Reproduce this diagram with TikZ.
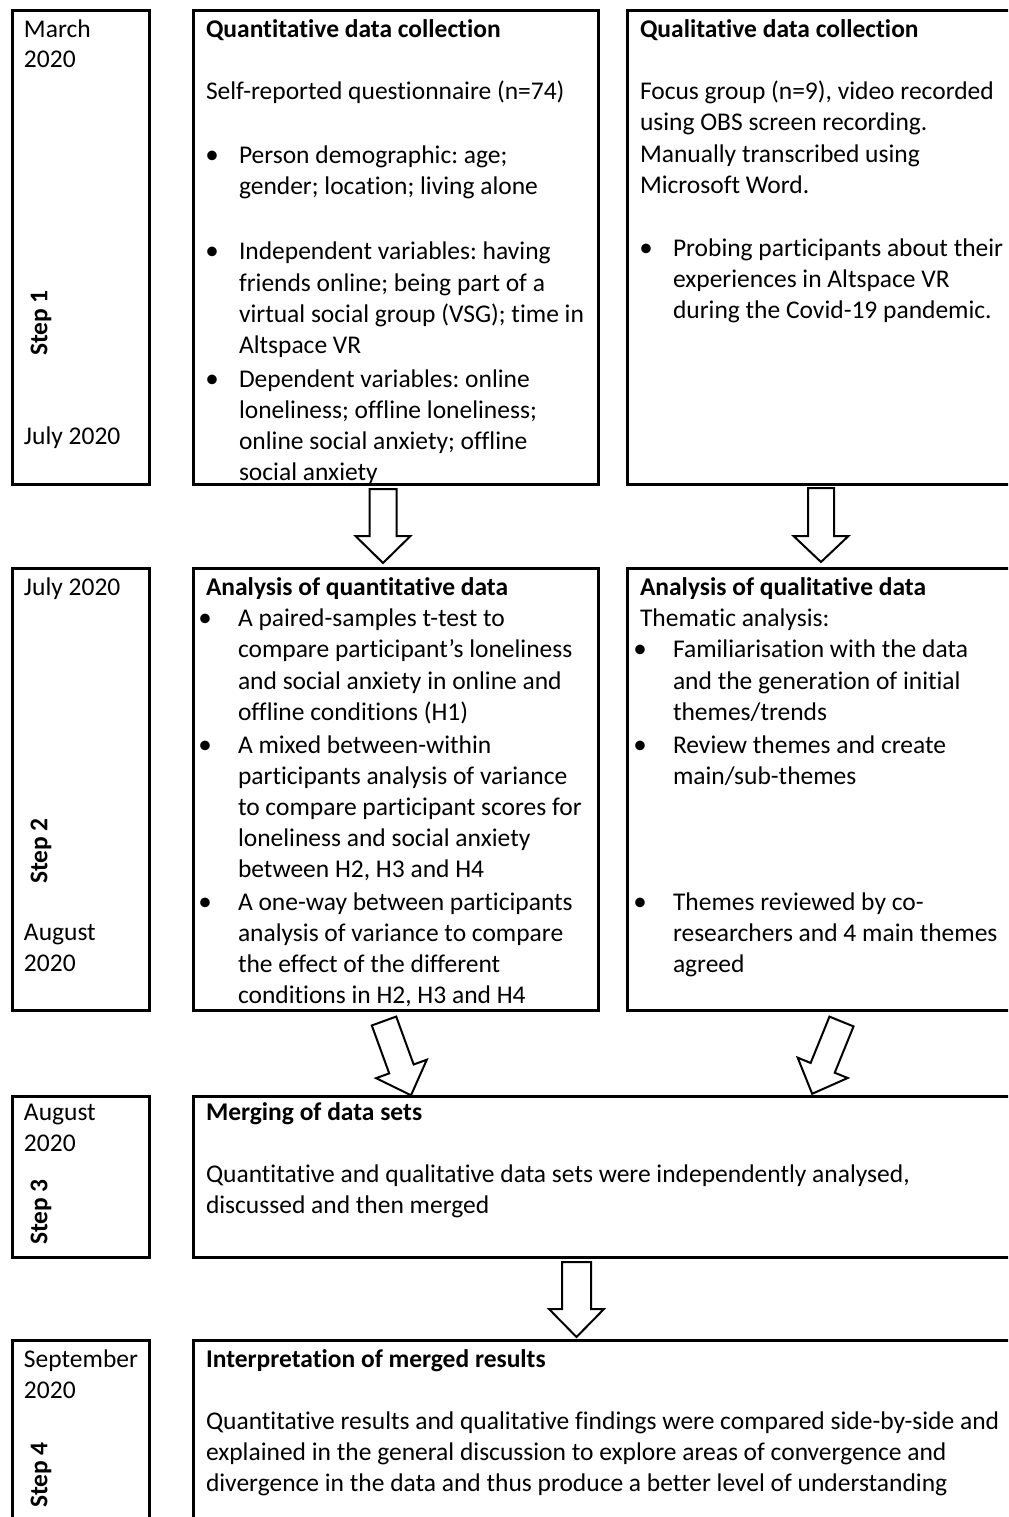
\documentclass[tikz,border=0pt]{standalone}
\usepackage{fontspec}
\setmainfont[Ligatures=NoCommon]{Carlito}
\frenchspacing
\newcounter{ln}
\tikzset{
  box/.style={draw=black, line width=1.5pt, fill=white, inner sep=0pt, outer sep=0pt, anchor=north west},
  txt/.style={inner sep=0pt, outer sep=0pt, anchor=base west, font=\fontsize{12.75}{15.6}\selectfont},
  bul/.style={inner sep=0pt, outer sep=0pt, anchor=base, font=\fontsize{13.5}{15.6}\selectfont},
  steplbl/.style={inner sep=0pt, rotate=90, font=\fontsize{12.75}{15.6}\selectfont\bfseries},
  blk/.style={draw=black, line width=1pt, fill=white, line join=miter},
}
\newcommand\tl[3]{\stepcounter{ln}\node[txt] (t\arabic{ln}) at (#1,#2) {#3};}
\newcommand\bt[2]{\stepcounter{ln}\node[bul] (b\arabic{ln}) at (#1,#2) {•};}
% #1 start coordinate, #2 canvas angle, #3 length, #4 shaft half width, #5 head half width, #6 head length
\newcommand\barrow[6]{\draw[blk, shift={(#1)}, rotate=#2] (0,#4) -- ({#3-#6},#4) -- ({#3-#6},#5) -- (#3,0) -- ({#3-#6},-#5) -- ({#3-#6},-#4) -- (0,-#4) -- cycle;}
\begin{document}
\begin{tikzpicture}[x=0.5pt,y=-0.5pt]
\useasboundingbox (0,0) rectangle (1008,1517);
\clip (0,0) rectangle (1008,1517);
\fill[white] (0,0) rectangle (1008,1517);
% boxes
\node[box, minimum width=68.5pt, minimum height=237pt] (d1) at (12,10) {};
\node[box, minimum width=202.5pt, minimum height=237pt] (q1) at (193,10) {};
\node[box, minimum width=200pt, minimum height=237pt] (l1) at (627,10) {};
\node[box, minimum width=68.5pt, minimum height=221pt] (d2) at (12,568) {};
\node[box, minimum width=202.5pt, minimum height=221pt] (q2) at (193,568) {};
\node[box, minimum width=200pt, minimum height=221pt] (l2) at (627,568) {};
\node[box, minimum width=68.5pt, minimum height=80.5pt] (d3) at (12,1096) {};
\node[box, minimum width=415pt, minimum height=80.5pt] (m3) at (193,1096) {};
\node[box, minimum width=68.5pt, minimum height=100pt] (d4) at (12,1340) {};
\node[box, minimum width=415pt, minimum height=100pt] (m4) at (193,1340) {};
% arrows
\coordinate (a1) at (383,489);
\coordinate (a2) at (821,488);
\coordinate (a3) at (384,1021);
\coordinate (a4) at (841.5,1021.5);
\coordinate (a5) at (576.5,1262);
\barrow{a1}{-90}{74}{13.5}{27.5}{27}
\barrow{a2}{-90}{74}{13}{27.5}{26}
\barrow{a3}{-70}{79}{13}{27}{28}
\barrow{a4}{-112.1}{78}{13}{27}{28}
\barrow{a5}{-90}{75}{14.5}{27.5}{28}
% step 1
\tl{24}{37}{March}
\tl{24}{67}{2020}
\tl{24}{444}{July 2020}
\node[steplbl] (s1) at (41,323) {Step 1};
\tl{206}{37}{\bfseries Quantitative data collection}
\tl{206}{99}{Self-reported questionnaire (n=74)}
\bt{212}{163}\tl{239}{163}{Person demographic: age;}
\tl{239}{194}{gender; location; living alone}
\bt{212}{259}\tl{239}{259}{Independent variables: having}
\tl{239}{291}{friends online; being part of a}
\tl{239}{322}{virtual social group (VSG); time in}
\tl{239}{353}{Altspace VR}
\bt{212}{387}\tl{239}{387}{Dependent variables: online}
\tl{239}{418}{loneliness; offline loneliness;}
\tl{239}{449}{online social anxiety; offline}
\tl{239}{480}{social anxiety}
\tl{640}{37}{\bfseries Qualitative data collection}
\tl{640}{99}{Focus group (n=9), video recorded}
\tl{640}{130}{using OBS screen recording.}
\tl{640}{162}{Manually transcribed using}
\tl{640}{193}{Microsoft Word.}
\bt{646}{256}\tl{673}{256}{Probing participants about their}
\tl{673}{287}{experiences in Altspace VR}
\tl{673}{318}{during the Covid-19 pandemic.}
% step 2
\tl{24}{595}{July 2020}
\tl{24}{940}{August}
\tl{24}{971}{2020}
\node[steplbl] (s2) at (41,851) {Step 2};
\tl{206}{595}{\bfseries Analysis of quantitative data}
\bt{205}{626}\tl{238}{626}{A paired-samples t-test to}
\tl{238}{657}{compare participant’s loneliness}
\tl{238}{689}{and social anxiety in online and}
\tl{238}{720}{offline conditions (H1)}
\bt{205}{753}\tl{238}{753}{A mixed between-within}
\tl{238}{784}{participants analysis of variance}
\tl{238}{815}{to compare participant scores for}
\tl{238}{846}{loneliness and social anxiety}
\tl{238}{877}{between H2, H3 and H4}
\bt{205}{910}\tl{238}{910}{A one-way between participants}
\tl{238}{941}{analysis of variance to compare}
\tl{238}{972}{the effect of the different}
\tl{238}{1003}{conditions in H2, H3 and H4}
\tl{640}{595}{\bfseries Analysis of qualitative data}
\tl{640}{626}{Thematic analysis:}
\bt{640}{657}\tl{673}{657}{Familiarisation with the data}
\tl{673}{689}{and the generation of initial}
\tl{673}{720}{themes/trends}
\bt{640}{753}\tl{673}{753}{Review themes and create}
\tl{673}{784}{main/sub-themes}
\bt{640}{910}\tl{673}{910}{Themes reviewed by co-}
\tl{673}{941}{researchers and 4 main themes}
\tl{673}{972}{agreed}
% step 3
\tl{24}{1120}{August}
\tl{24}{1151}{2020}
\node[steplbl] (s3) at (41,1212) {Step 3};
\tl{206}{1120}{\bfseries Merging of data sets}
\tl{206}{1182}{Quantitative and qualitative data sets were independently analysed,}
\tl{206}{1213}{discussed and then merged}
% step 4
\tl{24}{1367}{September}
\tl{24}{1398}{2020}
\node[steplbl] (s4) at (41,1475) {Step 4};
\tl{206}{1367}{\bfseries Interpretation of merged results}
\tl{206}{1429}{Quantitative results and qualitative findings were compared side-by-side and}
\tl{206}{1460}{explained in the general discussion to explore areas of convergence and}
\tl{206}{1491}{divergence in the data and thus produce a better level of understanding}
\end{tikzpicture}
\end{document}
